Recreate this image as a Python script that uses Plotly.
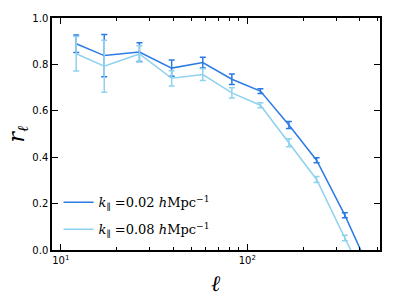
import plotly.graph_objects as go

ell = [12.1, 17.1, 26.4, 39.3, 57.7, 82.6, 117.5, 167, 235, 333, 470]
r_k002 = [0.889, 0.838, 0.853, 0.784, 0.808, 0.736, 0.685, 0.539, 0.387, 0.150, -0.115]
e_k002 = [0.038, 0.091, 0.040, 0.035, 0.023, 0.023, 0.010, 0.015, 0.011, 0.011, 0.011]
r_k008 = [0.846, 0.792, 0.845, 0.740, 0.756, 0.677, 0.624, 0.462, 0.304, 0.052, -0.195]
e_k008 = [0.074, 0.112, 0.035, 0.033, 0.025, 0.022, 0.011, 0.017, 0.013, 0.012, 0.012]

dark = "#2b7be4"
light = "#8fd2ef"

fig = go.Figure()
fig.add_trace(go.Scatter(
    x=ell, y=r_k002, mode="lines", line=dict(color=dark, width=1.5), legendgroup="a",
    error_y=dict(type="data", array=e_k002, color=dark, thickness=1.5, width=3),
    name="<i>k</i><sub>∥</sub> =0.02 <i>h</i>Mpc<sup>−1</sup>"))
fig.add_trace(go.Scatter(
    x=ell, y=r_k008, mode="lines", line=dict(color=light, width=1.5), legendgroup="b",
    error_y=dict(type="data", array=e_k008, color=light, thickness=1.5, width=3),
    name="<i>k</i><sub>∥</sub> =0.08 <i>h</i>Mpc<sup>−1</sup>"))

axis_common = dict(showline=True, linecolor="black", linewidth=1.5, mirror="ticks",
                   ticks="inside", tickcolor="black", showgrid=False, zeroline=False,
                   tickfont=dict(family="DejaVu Sans", size=10, color="black"))

fig.update_xaxes(type="log", range=[0.953, 2.711], tickvals=[10, 100],
                 ticktext=["10<sup>1</sup>", "10<sup>2</sup>"], ticklen=6,
                 minor=dict(ticks="inside", ticklen=3, tickcolor="black",
                            tickvals=[20, 30, 40, 50, 60, 70, 80, 90, 200, 300, 400, 500]),
                 **axis_common)
fig.update_yaxes(range=[0, 1], tickvals=[0, 0.2, 0.4, 0.6, 0.8, 1.0],
                 ticktext=["0.0", "0.2", "0.4", "0.6", "0.8", "1.0"], ticklen=6,
                 **axis_common)

fig.update_layout(
    width=399, height=299,
    margin=dict(l=52, r=19, t=14, b=49),
    plot_bgcolor="white", paper_bgcolor="white",
    showlegend=True,
    legend=dict(x=0.02, y=0.27, xanchor="left", yanchor="top",
                bgcolor="rgba(0,0,0,0)", font=dict(family="DejaVu Serif", size=13, color="black"),
                itemwidth=30, tracegroupgap=7),
    annotations=[
        dict(text="<i>r</i><sub><i>ℓ</i></sub>", x=-0.105, y=0.5, xref="paper", yref="paper",
             xanchor="center", yanchor="middle",
             showarrow=False, font=dict(family="DejaVu Serif", size=22, color="black"), textangle=-90),
        dict(text="<i>ℓ</i>", x=0.5, y=-0.145, xref="paper", yref="paper",
             xanchor="center", yanchor="middle",
             showarrow=False, font=dict(family="DejaVu Serif", size=22, color="black")),
    ],
)

fig.write_html("out.html", config={"displayModeBar": False},
               post_script="document.body.style.margin='0';")
